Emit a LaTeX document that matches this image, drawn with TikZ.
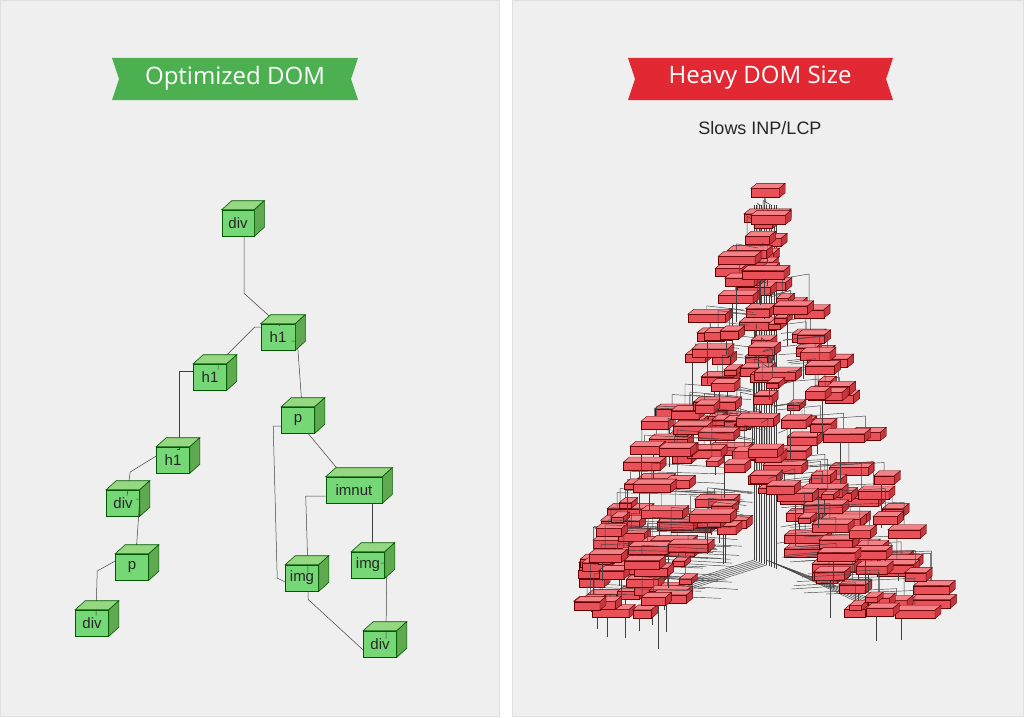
\documentclass[tikz,border=0pt]{standalone}
\usepackage{fontspec}
\setmainfont{Liberation Sans}
\newfontfamily\bannerfont{Open Sans}
\begin{document}
\begin{tikzpicture}[x=1pt,y=-1pt,
  gface/.style={draw=green!35!black,line width=0.6pt,fill=green!55!gray!70!white,rectangle,minimum height=26pt,inner sep=0pt,font=\fontsize{15}{15}\selectfont,text=black!85},
  rface/.style={draw=red!40!black,line width=0.4pt,fill={rgb,255:red,232;green,80;blue,90},rectangle,inner sep=0pt},
  wire/.style={draw=black!75,line width=0.5pt},
  rwire/.style={draw=black!75,line width=0.45pt}]
\definecolor{bg}{RGB}{239,239,239}
\definecolor{gtop}{RGB}{150,215,130}
\definecolor{gside}{RGB}{95,170,80}
\definecolor{rtop}{RGB}{242,130,135}
\definecolor{rside}{RGB}{195,55,62}
\definecolor{bgreen}{RGB}{76,176,80}
\definecolor{bred}{RGB}{226,40,50}
\useasboundingbox (0,0) rectangle (1024,717);
\fill[bg] (0,0) rectangle (1024,717);
\fill[white] (500,0) rectangle (512,717);
\draw[black!12] (0.5,0.5) rectangle (499.5,716.5);
\draw[black!12] (512.5,0.5) rectangle (1023.5,716.5);
% banners
\fill[bgreen] (112,58) -- (358,58) -- (351,79) -- (358,100) -- (112,100) -- (119,79) -- cycle;
\node[text=white,font=\bannerfont\fontsize{24}{24}\selectfont] (tg) at (235,78) {Optimized DOM};
\fill[bred] (628,58) -- (893,58) -- (886,79) -- (893,100) -- (628,100) -- (635,79) -- cycle;
\node[text=white,font=\bannerfont\fontsize{24}{24}\selectfont] (tr) at (760,78) {Heavy DOM Size};
\node[text=black!85,font=\fontsize{18}{18}\selectfont] (sub) at (760,128) {Slows INP/LCP};
\newcommand\gcube[1]{%
  \fill[gtop,draw=green!35!black,line width=0.6pt] (#1.north west) -- ++(10,-9) -- ([shift={(10,-9)}]#1.north east) -- (#1.north east) -- cycle;
  \fill[gside,draw=green!35!black,line width=0.6pt] (#1.north east) -- ++(10,-9) -- ([shift={(10,-9)}]#1.south east) -- (#1.south east) -- cycle;}
\node[gface,minimum width=32pt] (d1) at (238,223) {div};
\node[gface,minimum width=34pt] (ha) at (278,337) {h1};
\node[gface,minimum width=33pt] (hb) at (210,377) {h1};
\node[gface,minimum width=33pt] (pa) at (298,420) {p};
\node[gface,minimum width=33pt] (hc) at (173,460) {h1};
\node[gface,minimum width=33pt] (d2) at (123,503) {div};
\node[gface,minimum width=56pt] (im) at (354,490) {imnut};
\node[gface,minimum width=33pt] (pb) at (132,567) {p};
\node[gface,minimum width=33pt] (i1) at (302,578) {img};
\node[gface,minimum width=33pt] (i2) at (368,565) {img};
\node[gface,minimum width=33pt] (d3) at (92,623) {div};
\node[gface,minimum width=33pt] (d4) at (380,644) {div};
\begin{scope}[wire]
\draw (d1.south) ++(6,0) -- ++(0,57) -- ([xshift=2pt,yshift=-2pt]ha.north);
\draw (ha.west) ++(0,-10) -- ++(-6,0) -- ([xshift=8pt]hb.north) -- ([xshift=8pt,yshift=-6pt]hb.north);
\draw (hb.west) ++(0,-6) -- ++(-14,0) |- ([xshift=4pt,yshift=-3pt]hc.north);
\draw (hc.west) ++(0,-4) -- ++(-26,16) -- ([xshift=4pt,yshift=-6pt]d2.north);
\draw ([xshift=-4pt,yshift=4pt]d2.east) -- ++(4,0) -- ([xshift=4pt]pb.north);
\draw (pb.west) ++(0,-6) -- ++(-18,10) -- ([xshift=4pt,yshift=-6pt]d3.north);
\draw ([xshift=-4pt,yshift=-4pt]ha.east) -- ++(6,0) -- ([xshift=4pt]pa.north);
\draw ([yshift=-6pt]pa.west) -- ++(-8,0) -- ([xshift=-8pt]i1.west) -- ([yshift=-4pt]i1.west);
\draw ([xshift=10pt]pa.south) -- ([xshift=-10pt]im.north);
\draw ([yshift=-6pt]im.west) -- ++(-20,0) -- ([xshift=6pt,yshift=-8pt]i1.north);
\draw ([xshift=18pt]im.south) -- ([xshift=4pt]i2.north);
\draw ([xshift=-4pt,yshift=2pt]i2.east) -- ++(6,0) -- ([xshift=6pt,yshift=-8pt]d4.north);
\draw ([xshift=6pt]i1.south) -- ++(0,8) -- ([yshift=-6pt]d4.west);
\end{scope}
\foreach \n in {d1,ha,hb,pa,hc,d2,im,pb,i1,i2,d3,d4}{\gcube{\n}}
% ---------- right: heavy DOM ----------
\newcommand\rcube[1]{%
  \fill[rtop,draw=red!40!black,line width=0.4pt] (#1.north west) -- ++(6,-5) -- ([shift={(6,-5)}]#1.north east) -- (#1.north east) -- cycle;
  \fill[rside,draw=red!40!black,line width=0.4pt] (#1.north east) -- ++(6,-5) -- ([shift={(6,-5)}]#1.south east) -- (#1.south east) -- cycle;}
\pgfmathsetseed{5}
\foreach \k in {0,...,9}{
  \pgfmathsetmacro\tx{754+\k*2.5}
  \draw[rwire] (\tx,205) -- (\tx,560+\k);
}
\foreach \k in {0,...,5}{
  \draw[rwire] (754+\k*2.5,560+\k) -- (625+\k*6,600);
  \draw[rwire] (766+\k*2.5,560+\k) -- (915-\k*6,615);
}
\foreach \i in {1,...,215}{
  \pgfmathsetmacro\yy{205+412*sqrt(rnd)}
  \pgfmathsetmacro\hw{(\yy-190)*0.44}
  \pgfmathsetmacro\gap{max(0,(\yy-500)*0.85)}
  \pgfmathsetmacro\side{rnd<0.5?-1:1}
  \pgfmathsetmacro\xx{765+\side*(\gap+rnd*(\hw-\gap))-8}
  \pgfmathsetmacro\ww{rnd<0.2?12:18+24*rnd}
  \pgfmathsetmacro\hh{\ww<13?5:8}
  \pgfmathsetmacro\L{8+28*rnd}
  \pgfmathsetmacro\D{rnd<0.4?10+40*rnd:0}
  \pgfmathsetmacro\ttx{(\xx+2*(754+22*rnd))/3}
  \node[rface,minimum width=\ww pt,minimum height=\hh pt] (r\i) at (\xx,\yy) {};
  \draw[rwire] (r\i.north) -- ++(0,-\L) -- (\ttx,\yy-\L);
  \draw[rwire] ([xshift=-3pt]r\i.south) -- ++(0,\D);
  \rcube{r\i}
}
\node[rface,minimum width=28pt,minimum height=9pt] (top1) at (765,193) {};
\node[rface,minimum width=34pt,minimum height=9pt] (top2) at (768,220) {};
\draw[rwire] (top1.south) -- (top2.north);
\rcube{top1}\rcube{top2}
\end{tikzpicture}
\end{document}
